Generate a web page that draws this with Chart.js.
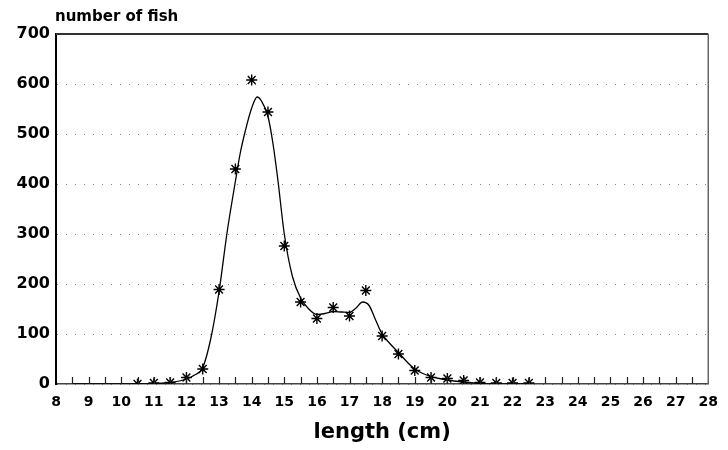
<!DOCTYPE html>
<html lang="en">
<head>
  <meta charset="UTF-8">
  <title>Length frequency of fish</title>
  <script src="https://cdn.jsdelivr.net/npm/chart.js"></script>
  <style>
    html, body {
      margin: 0;
      padding: 0;
      background: #fff;
    }

    .chart-container {
      width: 728px;
      height: 450px;
      position: relative;
    }
  </style>
</head>
<body>

  <div class="chart-container">
    <canvas id="fishChart"></canvas>
  </div>

  <script>
    // observed counts (asterisks)
    const lengthCm = [10.5, 11, 11.5, 12, 12.5, 13, 13.5, 14, 14.5, 15, 15.5, 16, 16.5, 17, 17.5, 18, 18.5, 19, 19.5, 20, 20.5, 21, 21.5, 22, 22.5];
    const fishCount = [0, 2, 3, 13, 30, 189, 430, 608, 544, 276, 164, 131, 153, 136, 187, 96, 60, 27, 13, 11, 7, 3, 2, 2, 2];

    // fitted curve
    const fitLength = [8.5, 9, 9.5, 10, 10.5, 11, 11.5, 12, 12.25, 12.5, 12.75, 13, 13.25, 13.5, 13.65, 13.8, 14, 14.17, 14.3, 14.5, 14.65, 14.8, 15, 15.25, 15.5, 15.75, 16, 16.25, 16.5, 16.75, 17, 17.2, 17.4, 17.6, 17.8, 18, 18.25, 18.5, 18.75, 19, 19.25, 19.5, 19.75, 20, 20.5, 21, 21.5, 22, 22.5];
    const fitCount = [0, 0, 0, 0, 0, 1, 3, 10, 18, 33, 92, 185, 305, 405, 462, 505, 552, 574, 566, 535, 482, 410, 300, 215, 172, 150, 139, 141, 145, 144, 143, 152, 164, 157, 128, 100, 80, 63, 45, 30, 21, 15, 11, 8, 4, 1, 0, 0, 0];

    const xTicks = [8, 28];      // axis range, labelled every 1 cm
    const yTicks = [0, 700];     // axis range, labelled every 100
    const minorStep = 0.5;

    const toPoints = (xs, ys) => xs.map((x, i) => ({ x: x, y: ys[i] }));

    // frame on top/right plus the little inward ticks on the length axis
    const framePlugin = {
      id: 'frame',
      afterDatasetsDraw(chart) {
        const { ctx, chartArea: a, scales } = chart;
        ctx.save();
        ctx.strokeStyle = '#333';
        ctx.lineWidth = 2;
        ctx.beginPath();
        ctx.moveTo(a.left, a.top);
        ctx.lineTo(a.right, a.top);
        ctx.stroke();
        ctx.strokeStyle = '#666';
        ctx.lineWidth = 1.5;
        ctx.beginPath();
        ctx.moveTo(a.right, a.top);
        ctx.lineTo(a.right, a.bottom);
        ctx.stroke();

        ctx.strokeStyle = '#222';
        ctx.lineWidth = 1.2;
        ctx.beginPath();
        for (let v = xTicks[0] + minorStep; v < xTicks[1]; v += minorStep) {
          const px = Math.round(scales.x.getPixelForValue(v)) + 0.5;
          ctx.moveTo(px, a.bottom);
          ctx.lineTo(px, a.bottom - 7);
        }
        ctx.stroke();

        ctx.fillStyle = '#000';
        ctx.font = 'bold 15px "DejaVu Sans"';
        ctx.textBaseline = 'middle';
        ctx.textAlign = 'left';
        ctx.fillText('number of fish', a.left - 1, 17);
        ctx.restore();
      }
    };

    const ctx = document.getElementById('fishChart').getContext('2d');

    const fishChart = new Chart(ctx, {
      type: 'scatter',
      data: {
        datasets: [{
          label: 'fitted',
          data: toPoints(fitLength, fitCount),
          showLine: true,
          borderColor: '#000',
          borderWidth: 1.3,
          pointRadius: 0,
          cubicInterpolationMode: 'monotone',
          fill: false
        }, {
          label: 'observed',
          data: toPoints(lengthCm, fishCount),
          pointStyle: 'star',
          pointRadius: 5.5,
          borderColor: '#000',
          backgroundColor: '#000',
          pointBorderWidth: 1.4
        }]
      },
      options: {
        responsive: true,
        maintainAspectRatio: false,
        animation: false,
        layout: {
          padding: { left: 0, right: 13, top: 34, bottom: 0 }
        },
        plugins: {
          legend: { display: false },
          tooltip: { enabled: false }
        },
        scales: {
          x: {
            type: 'linear',
            min: xTicks[0],
            max: xTicks[1],
            afterFit: (scale) => { scale.height = 66; },
            grid: { display: false, drawTicks: false },
            border: { display: true, color: '#444', width: 1.5 },
            ticks: {
              stepSize: 1,
              padding: 10,
              color: '#000',
              font: { family: 'DejaVu Sans', size: 14, weight: 'bold' }
            },
            title: {
              display: true,
              text: 'length (cm)',
              color: '#000',
              padding: { top: 0, bottom: 5 },
              font: { family: 'DejaVu Sans', size: 21, weight: 'bold' }
            }
          },
          y: {
            min: yTicks[0],
            max: yTicks[1],
            afterFit: (scale) => { scale.width = 56; },
            grid: {
              color: '#888',
              lineWidth: 1,
              drawTicks: false
            },
            border: { display: true, color: '#000', width: 2, dash: [1, 8] },
            ticks: {
              stepSize: 100,
              padding: 6,
              color: '#000',
              font: { family: 'DejaVu Sans', size: 16, weight: 'bold' }
            }
          }
        }
      },
      plugins: [framePlugin]
    });
  </script>
</body>
</html>
